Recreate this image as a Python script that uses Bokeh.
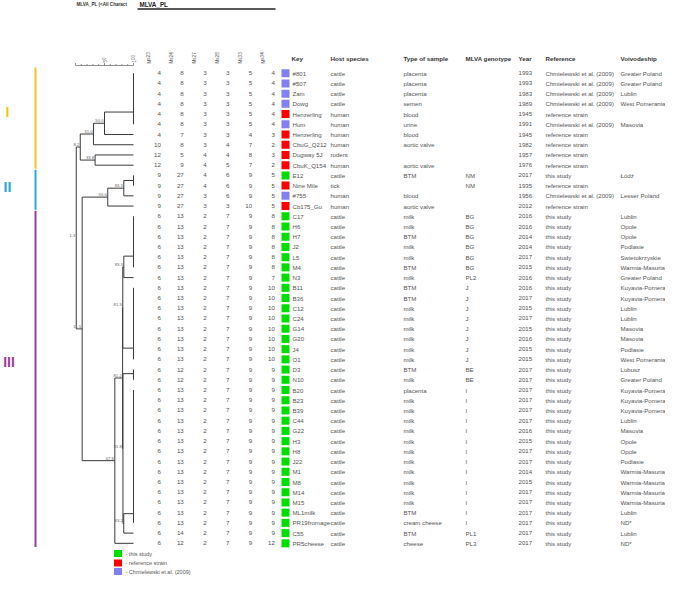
from bokeh.plotting import figure
from bokeh.models import Range1d
from bokeh.core.properties import value
from bokeh.embed import file_html
from bokeh.resources import INLINE

# ---------------- data ----------------
keys = ["#801", "#507", "Zam", "Dowg", "Henzerling", "Hum", "Henzerling", "CbuG_Q212",
        "Dugway 5J", "CbuK_Q154", "E12", "Nine Mile", "#755", "Cb175_Gu",
        "C17", "H6", "H7", "J2", "L5", "M4", "N3",
        "B11", "B36", "C12", "C24", "G14", "G20", "J4", "O1",
        "D3", "N10", "B20", "B23", "B39", "C44", "G22", "H3", "H8", "J22",
        "M1", "M8", "M14", "M15", "ML1milk", "PR19fromage", "C55", "PR5cheese"]

ms_names = ["Ms23", "Ms24", "Ms27", "Ms28", "Ms33", "Ms34"]
ms23 = [4, 4, 4, 4, 4, 4, 4, 10, 12, 12, 9, 9, 9, 9,
        6, 6, 6, 6, 6, 6, 6, 6, 6, 6, 6, 6, 6, 6, 6, 6, 6,
        6, 6, 6, 6, 6, 6, 6, 6, 6, 6, 6, 6, 6, 6, 6, 6]
ms24 = [8, 8, 8, 8, 8, 8, 7, 8, 5, 9, 27, 27, 27, 27,
        13, 13, 13, 13, 13, 13, 13, 13, 13, 13, 13, 13, 13, 13, 13, 12, 12,
        13, 13, 13, 13, 13, 13, 13, 13, 13, 13, 13, 13, 13, 13, 14, 12]
ms27 = [3, 3, 3, 3, 3, 3, 3, 3, 4, 4, 4, 4, 3, 3,
        2, 2, 2, 2, 2, 2, 2, 2, 2, 2, 2, 2, 2, 2, 2, 2, 2,
        2, 2, 2, 2, 2, 2, 2, 2, 2, 2, 2, 2, 2, 2, 2, 2]
ms28 = [3, 3, 3, 3, 3, 3, 3, 4, 4, 5, 6, 6, 6, 3,
        7, 7, 7, 7, 7, 7, 7, 7, 7, 7, 7, 7, 7, 7, 7, 7, 7,
        7, 7, 7, 7, 7, 7, 7, 7, 7, 7, 7, 7, 7, 7, 7, 7]
ms33 = [5, 5, 5, 5, 5, 5, 4, 7, 8, 7, 9, 9, 9, 10,
        9, 9, 9, 9, 9, 9, 9, 9, 9, 9, 9, 9, 9, 9, 9, 9, 9,
        9, 9, 9, 9, 9, 9, 9, 9, 9, 9, 9, 9, 9, 9, 9, 9]
ms34 = [4, 4, 4, 4, 4, 4, 3, 2, 3, 2, 5, 5, 5, 5,
        8, 8, 8, 8, 8, 8, 7, 10, 10, 10, 10, 10, 10, 10, 10, 9, 9,
        9, 9, 9, 9, 9, 9, 9, 9, 9, 9, 9, 9, 9, 9, 9, 12]

hosts = ["cattle", "cattle", "cattle", "cattle", "human", "human", "human", "human",
         "rodent", "human", "cattle", "tick", "human", "human",
         "cattle", "cattle", "cattle", "cattle", "cattle", "cattle", "cattle",
         "cattle", "cattle", "cattle", "cattle", "cattle", "cattle", "cattle", "cattle",
         "cattle", "cattle", "cattle", "cattle", "cattle", "cattle", "cattle", "cattle",
         "cattle", "cattle", "cattle", "cattle", "cattle", "cattle", "cattle", "cattle",
         "cattle", "cattle"]
samples = ["placenta", "placenta", "placenta", "semen", "blood", "urine", "blood", "aortic valve",
           "", "aortic valve", "BTM", "", "blood", "aortic valve",
           "milk", "milk", "BTM", "milk", "milk", "BTM", "milk",
           "BTM", "BTM", "milk", "milk", "milk", "milk", "milk", "milk",
           "BTM", "milk", "placenta", "milk", "milk", "milk", "milk", "milk",
           "milk", "milk", "milk", "milk", "milk", "milk", "BTM", "cream cheese",
           "BTM", "cheese"]
genotypes = ["", "", "", "", "", "", "", "", "", "", "NM", "NM", "", "",
             "BG", "BG", "BG", "BG", "BG", "BG", "PL2",
             "J", "J", "J", "J", "J", "J", "J", "J",
             "BE", "BE", "I", "I", "I", "I", "I", "I", "I", "I",
             "I", "I", "I", "I", "I", "I", "PL1", "PL3"]
years = [1993, 1993, 1983, 1989, 1945, 1991, 1945, 1982, 1957, 1976, 2017, 1935, 1956, 2012,
         2016, 2016, 2014, 2014, 2017, 2015, 2016,
         2016, 2017, 2015, 2017, 2015, 2016, 2015, 2015,
         2017, 2017, 2017, 2017, 2017, 2017, 2016, 2015, 2017, 2017,
         2014, 2015, 2017, 2017, 2017, 2017, 2017, 2017]
CH = "Chmielewski et al. (2009)"
RS = "reference strain"
TS = "this study"
references = [CH, CH, CH, CH, RS, CH, RS, RS, RS, RS, TS, RS, CH, RS,
              TS, TS, TS, TS, TS, TS, TS, TS, TS, TS, TS, TS, TS, TS, TS,
              TS, TS, TS, TS, TS, TS, TS, TS, TS, TS, TS, TS, TS, TS, TS, TS,
              TS, TS]
voivodeships = ["Greater Poland", "Greater Poland", "Lublin", "West Pomerania", "", "Masovia",
                "", "", "", "", "Łódź", "", "Lesser Poland", "",
                "Lublin", "Opole", "Opole", "Podlasie", "Swietokrzyskie", "Warmia-Masuria",
                "Greater Poland", "Kuyavia-Pomerania", "Kuyavia-Pomerania", "Lublin", "Lublin",
                "Masovia", "Masovia", "Podlasie", "West Pomerania", "Lubusz", "Greater Poland",
                "Kuyavia-Pomerania", "Kuyavia-Pomerania", "Kuyavia-Pomerania", "Lublin", "Masovia",
                "Opole", "Opole", "Podlasie", "Warmia-Masuria", "Warmia-Masuria", "Warmia-Masuria",
                "Warmia-Masuria", "Lublin", "ND*", "Lublin", "ND*"]

legend_labels = ["this study", "reference strain", "Chmielewski et al. (2009)"]
legend_colors = ["#00DD00", "#FF0000", "#8080F2"]

# dendrogram: groups of identical profiles (joined at 100 %)
group_ids = ["g1", "g11", "g15", "g22", "g30", "g32"]
group_first = [1, 11, 15, 22, 30, 32]
group_last = [6, 12, 20, 29, 31, 45]
group_join = [4.8, 11.5, 18.9, 27.9, 30.4, 44.1]
# internal nodes (bottom-up): similarity value and two children
node_ids = ["A", "B", "C", "D", "E", "F", "N1", "N2", "N3", "N4", "N5", "N6", "G", "R"]
node_sim = [50.0, 31.0, 33.8, 8.2, 83.3, 55.6, 83.3, 81.5, 83.2, 81.8, 81.2, 67.8, 11.5, 1.3]
node_a = ["g1", "A", "r9", "B", "g11", "E", "g15", "N1", "g32", "g30", "N2", "N5", "F", "D"]
node_b = ["r7", "r8", "r10", "C", "r13", "r14", "r21", "g22", "r46", "N3", "N4", "r47", "N6", "G"]

cluster_names = ["I", "II", "III"]
cluster_first = [1, 11, 15]
cluster_last = [10, 14, 47]
cluster_label_row = [4.8, 12.1, 29.3]
cluster_colors = ["#F4C520", "#2AA6DC", "#9C3C98"]

# ---------------- layout ----------------
W, H = 665, 575
ROW1_Y, ROW_H = 72.7, 10.22          # pixel of row 1, row pitch


def row_at(ypx):
    return 1 + (ypx - ROW1_Y) / ROW_H


SIM0_X, SIM_PX = 75.0, 0.58           # x of similarity 0, px per %

p = figure(width=W, height=H, output_backend="svg", toolbar_location=None,
           x_range=Range1d(0, W), y_range=Range1d(row_at(H), row_at(0)),
           min_border=0, background_fill_color="white", border_fill_color="white")
p.extra_x_ranges = {"sim": Range1d((0 - SIM0_X) / SIM_PX, (W - SIM0_X) / SIM_PX)}
p.extra_y_ranges = {"px": Range1d(H, 0)}
p.axis.visible = False
p.xgrid.visible = False
p.ygrid.visible = False
p.outline_line_color = None

FONT = value("Liberation Sans")
TXT = "#555555"
LINE = "#3a3a3a"
rows = list(range(1, len(keys) + 1))

# ---- title ----
p.text(x=[76], y=[3.5], text=["MLVA_PL (<All Charact"], y_range_name="px",
       text_font=FONT, text_font_size="4.6px", text_font_style="bold",
       text_baseline="middle", text_color="#333333")
p.text(x=[139], y=[3.5], text=["MLVA_PL"], y_range_name="px",
       text_font=FONT, text_font_size="6.3px", text_font_style="bold",
       text_baseline="middle", text_color="#222222")
p.segment(x0=[137], x1=[275], y0=[8.5], y1=[8.5], y_range_name="px",
          line_color="#222222", line_width=1.3)

# ---- similarity scale ----
scale_ticks = [0, 10, 20, 30, 40, 50, 60, 70, 80, 90, 100]
p.segment(x0=[0], x1=[100], y0=[65], y1=[65], x_range_name="sim", y_range_name="px",
          line_color="#777777", line_width=0.8)
p.segment(x0=scale_ticks, x1=scale_ticks, y0=[65] * len(scale_ticks),
          y1=[63.5 if t % 50 else 62.5 for t in scale_ticks],
          x_range_name="sim", y_range_name="px", line_color="#777777", line_width=0.8)
p.text(x=[50, 100], y=[62, 62], text=["50", "100"], angle=1.5708,
       x_range_name="sim", y_range_name="px", text_font=FONT, text_font_size="4.6px",
       text_align="left", text_baseline="middle", text_color="#666666")

# ---- dendrogram ----
pos = {}
for r in rows:
    pos["r%d" % r] = (100.0, float(r))
for gid, gj in zip(group_ids, group_join):
    pos[gid] = (100.0, gj)
for nid, s, a, b in zip(node_ids, node_sim, node_a, node_b):
    pos[nid] = (s, (pos[a][1] + pos[b][1]) / 2)

sx0, sx1, sy0, sy1 = [], [], [], []
for gf, gl in zip(group_first, group_last):
    sx0.append(100); sx1.append(100); sy0.append(gf); sy1.append(gl)
for nid, s, a, b in zip(node_ids, node_sim, node_a, node_b):
    ya, yb = pos[a][1], pos[b][1]
    sx0.append(s); sx1.append(s); sy0.append(ya); sy1.append(yb)
    for c in (a, b):
        sx0.append(s); sx1.append(pos[c][0]); sy0.append(pos[c][1]); sy1.append(pos[c][1])
p.segment(x0=sx0, x1=sx1, y0=sy0, y1=sy1, x_range_name="sim",
          line_color=LINE, line_width=1)
p.text(x=node_sim, y=[pos[n][1] for n in node_ids], text=["%.1f" % s for s in node_sim],
       x_range_name="sim", x_offset=-1, y_offset=-1, text_font=FONT, text_font_size="4.2px",
       text_align="right", text_baseline="bottom", text_color="#666666")

# ---- cluster bars ----
p.segment(x0=[35] * 3, x1=[35] * 3, y0=[f - 0.55 for f in cluster_first],
          y1=[l + 0.35 for l in cluster_last], line_color=cluster_colors, line_width=2)
p.text(x=[7, 7, 8.5], y=cluster_label_row, text=cluster_names, text_font=FONT,
       text_font_size="14px", text_font_style="bold", text_align="center",
       text_baseline="middle", text_color=cluster_colors)

# ---- MLVA columns ----
COL0_HDR, COL0_VAL, COL_STEP = 148.5, 160.5, 22.8
ms_cols = [ms23, ms24, ms27, ms28, ms33, ms34]
p.text(x=[COL0_HDR + COL_STEP * i for i in range(6)], y=[63] * 6, text=ms_names,
       angle=1.5708, y_range_name="px", text_font=FONT, text_font_size="4.6px",
       text_align="left", text_baseline="middle", text_color="#555555")
for i, col in enumerate(ms_cols):
    p.text(x=[COL0_VAL + COL_STEP * i] * len(col), y=rows, text=[str(v) for v in col],
           text_font=FONT, text_font_size="6.2px", text_align="right",
           text_baseline="middle", text_color=TXT)

# ---- key squares ----
ref_color = dict(zip([TS, RS, CH], legend_colors))
p.rect(x=[285] * len(rows), y=rows, width=8, height=8 / ROW_H,
       fill_color=[ref_color[r] for r in references], line_color=None)

# ---- metadata columns ----
hdr_names = ["Key", "Host species", "Type of sample", "MLVA genotype", "Year", "Reference",
             "Voivodeship"]
hdr_x = [291, 330, 403, 465, 518, 545, 620]
p.text(x=hdr_x, y=[57.5] * len(hdr_x), text=hdr_names, y_range_name="px",
       text_font=FONT, text_font_size="6.2px", text_font_style="bold",
       text_baseline="middle", text_color="#333333")
meta_cols = [keys, hosts, samples, genotypes, [str(y) for y in years], references, voivodeships]
meta_x = [292, 330, 403, 465, 518, 545, 620]
for xx, col in zip(meta_x, meta_cols):
    p.text(x=[xx] * len(col), y=rows, text=col, text_font=FONT, text_font_size="6.1px",
           text_baseline="middle", text_color=TXT)

# ---- legend ----
leg_y = [553, 562.5, 571]
p.rect(x=[117.5] * 3, y=leg_y, width=8, height=7, y_range_name="px",
       fill_color=legend_colors, line_color=None)
p.text(x=[125] * 3, y=leg_y, text=["- " + t for t in legend_labels], y_range_name="px",
       text_font=FONT, text_font_size="5.5px", text_baseline="middle", text_color="#555555")

open("out.html", "w").write(file_html(p, INLINE))
